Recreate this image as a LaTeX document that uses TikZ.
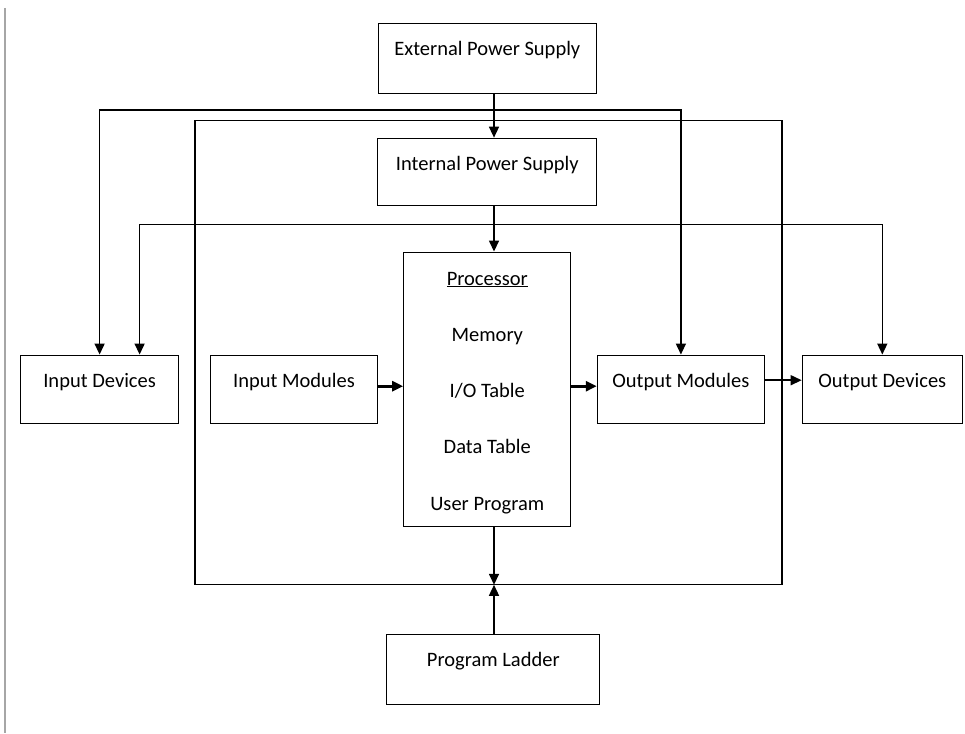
\documentclass[tikz,border=0pt]{standalone}
\usepackage{fontspec}
\setmainfont{Carlito}
\usetikzlibrary{arrows.meta,positioning}

\begin{document}
\begin{tikzpicture}[
x=1pt, y=-1pt,
node distance=25pt,
unit/.style={rectangle, draw=black, line width=1.3pt, inner sep=0pt, text height=32pt, text depth=36pt, font=\fontsize{20.5}{24}\selectfont},
link/.style={line width=1.5pt, -{Triangle[length=11pt,width=10pt]}},
buslink/.style={line width=1.5pt, {Triangle[length=11pt,width=10pt]}-{Triangle[length=11pt,width=10pt]}},
heavy/.style={line width=2.8pt, -{Triangle[length=11pt,width=10pt]}}
]
\useasboundingbox (0,0) rectangle (965,733);
\draw[gray!70, line width=2.2pt] (5,8) -- (5,733);
\node[draw, line width=1.3pt, minimum width=587pt, minimum height=463.5pt] (plc) at (488.5,352.4) {};

\node[unit, minimum width=167pt, minimum height=274pt, text height=257.7pt, text depth=16pt, align=center, font=\fontsize{20.5}{56.25}\selectfont] (proc) at (487.3,389.2) {\underline{Processor}\\Memory\\I/O Table\\Data Table\\User Program};
\node[unit, minimum width=167pt, left=25pt of proc] (inmod) {Input Modules};
\node[unit, minimum width=158pt, left=30.6pt of inmod] (indev) {Input Devices};
\node[unit, minimum width=167pt, right=25.3pt of proc] (outmod) {Output Modules};
\node[unit, minimum width=160pt, right=36.6pt of outmod] (outdev) {Output Devices};
\node[unit, minimum width=219pt, text depth=35pt, above=45.6pt of proc] (intps) {Internal Power Supply};
\node[unit, minimum width=218pt, text depth=38pt, above=43.3pt of intps] (extps) {External Power Supply};
\node[unit, minimum width=213pt, text depth=38pt, below=107pt of proc, xshift=6pt] (ladder) {Program Ladder};

\coordinate (pwrbus) at (494,110);
\coordinate (sigbus) at (494,224.5);

\draw[link] (extps.south -| pwrbus) -- (intps.north -| pwrbus);
\draw[buslink] (indev.north) |- (pwrbus) -| (outmod.north);
\draw[link] (intps.south -| sigbus) -- (proc.north -| sigbus);
\draw[buslink] ([xshift=40pt]indev.north) |- (sigbus) -| (outdev.north);
\draw[heavy] ([yshift=3pt]inmod.east) -- ([yshift=3pt]inmod.east -| proc.west);
\draw[heavy] ([yshift=3pt]outmod.west -| proc.east) -- ([yshift=3pt]outmod.west);
\draw[link] ([yshift=9pt]outmod.east) -- ([yshift=9pt]outmod.east -| outdev.west);
\draw[link] (proc.south -| sigbus) -- (plc.south -| sigbus);
\draw[link] (ladder.north -| sigbus) -- (plc.south -| sigbus);
\end{tikzpicture}
\end{document}
